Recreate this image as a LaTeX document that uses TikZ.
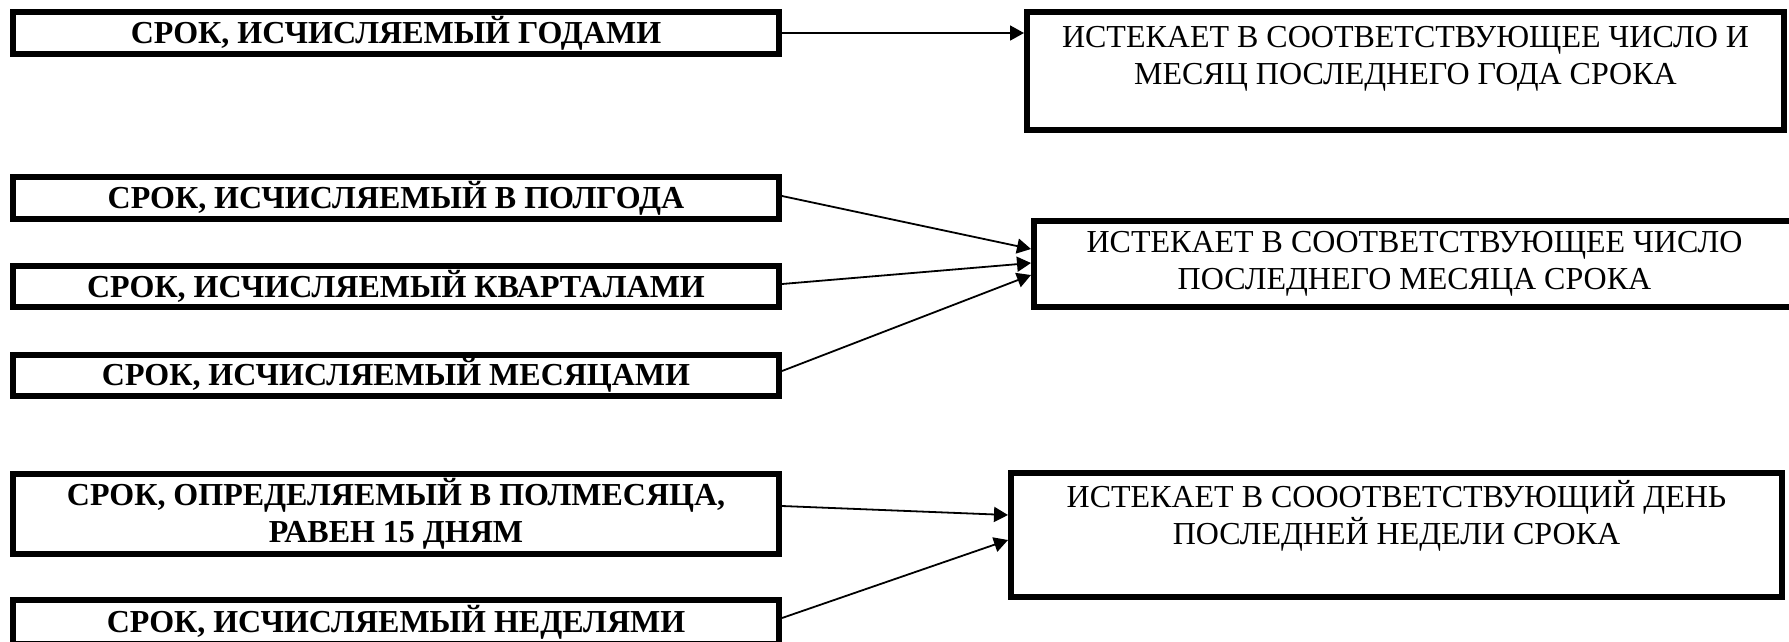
\documentclass[tikz,border=0pt]{standalone}
\usepackage{fontspec}
\setmainfont{Liberation Serif}
\usetikzlibrary{arrows.meta}
\tikzset{
  basebox/.style={draw, line width=6pt, inner sep=0pt, align=center},
  lbox/.style={basebox, minimum width=766pt, font=\bfseries\fontsize{32}{37}\selectfont},
  rbox/.style={basebox, font=\fontsize{32}{37}\selectfont},
  rtext/.style={inner sep=0pt, align=center, anchor=north, font=\fontsize{32}{37}\selectfont},
  conn/.style={line width=1.8pt, -{Triangle[length=14pt,width=15pt]}}
}
\begin{document}
\begin{tikzpicture}[x=1pt,y=-1pt]
\useasboundingbox (0,0) rectangle (1789,641);
\clip (0,0) rectangle (1789,641);
% left boxes
\node[lbox, minimum height=42pt] (a) at (396,33) {СРОК, ИСЧИСЛЯЕМЫЙ ГОДАМИ};
\node[lbox, minimum height=42pt] (b) at (396,198) {СРОК, ИСЧИСЛЯЕМЫЙ В ПОЛГОДА};
\node[lbox, minimum height=41pt] (c) at (396,286.5) {СРОК, ИСЧИСЛЯЕМЫЙ КВАРТАЛАМИ};
\node[lbox, minimum height=41pt] (d) at (396,375.5) {СРОК, ИСЧИСЛЯЕМЫЙ МЕСЯЦАМИ};
\node[lbox, minimum height=80pt] (e) at (396,514) {СРОК, ОПРЕДЕЛЯЕМЫЙ В ПОЛМЕСЯЦА,\\РАВЕН 15 ДНЯМ};
\node[lbox, minimum height=44pt] (f) at (396,622) {СРОК, ИСЧИСЛЯЕМЫЙ НЕДЕЛЯМИ};
% right boxes
\node[rbox, minimum width=757pt, minimum height=118pt] (r1) at (1405.5,71) {};
\node[rtext] (r1t) at (1405.5,21) {\rule{0pt}{26pt}ИСТЕКАЕТ В СООТВЕТСТВУЮЩЕЕ ЧИСЛО И\\МЕСЯЦ ПОСЛЕДНЕГО ГОДА СРОКА};
\node[rbox, minimum width=761pt, minimum height=86pt] (r2) at (1414.5,264) {ИСТЕКАЕТ В СООТВЕТСТВУЮЩЕЕ ЧИСЛО\\ПОСЛЕДНЕГО МЕСЯЦА СРОКА};
\node[rbox, minimum width=771pt, minimum height=124pt] (r3) at (1396.5,535) {};
\node[rtext] (r3t) at (1396.5,480) {\rule{0pt}{26pt}ИСТЕКАЕТ В СОООТВЕТСТВУЮЩИЙ ДЕНЬ\\ПОСЛЕДНЕЙ НЕДЕЛИ СРОКА};
% connectors
\draw[conn] (a.east) -- ([yshift=38pt]r1.west);
\draw[conn] ([yshift=2pt]b.east) -- ([yshift=15pt]r2.west);
\draw[conn] ([yshift=2.5pt]c.east) -- ([yshift=1pt]r2.west);
\draw[conn] ([yshift=4.5pt]d.east) -- ([yshift=-11pt]r2.west);
\draw[conn] ([yshift=8pt]e.east) -- ([yshift=20pt]r3.west);
\draw[conn] ([yshift=4pt]f.east) -- ([yshift=-5pt]r3.west);
\end{tikzpicture}
\end{document}
